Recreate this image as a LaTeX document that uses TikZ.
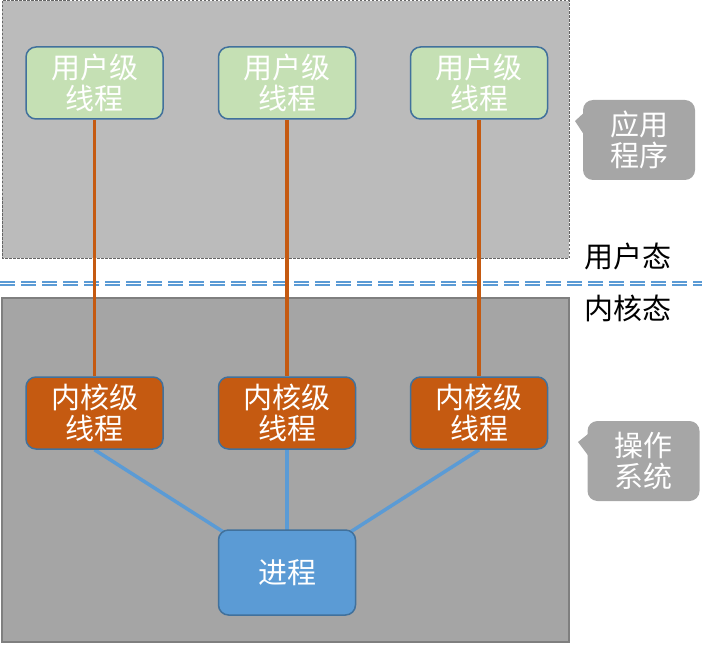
\documentclass[tikz,border=0pt]{standalone}
\usepackage{fontspec}
\newfontfamily\cjk{Noto Sans CJK SC}
\usetikzlibrary{calc}
\definecolor{topfill}{HTML}{BBBBBB}
\definecolor{botfill}{HTML}{A5A5A5}
\definecolor{frame}{HTML}{7F7F7F}
\definecolor{greenbox}{HTML}{C5E0B4}
\definecolor{orangebox}{HTML}{C55A11}
\definecolor{bluebox}{HTML}{5B9BD5}
\definecolor{edgeblue}{HTML}{41719C}
\definecolor{calloutgray}{HTML}{A6A6A6}
\pgfdeclarelayer{bg}
\pgfdeclarelayer{lines}
\pgfsetlayers{bg,lines,main}
\tikzset{
  thr/.style={draw=edgeblue, line width=1.5pt, rounded corners=10pt, minimum width=137pt, minimum height=72pt, text=white, align=center, font=\cjk\fontsize{29}{31}\selectfont, inner sep=0pt},
  uthr/.style={thr, fill=greenbox},
  kthr/.style={thr, fill=orangebox},
  proc/.style={thr, fill=bluebox, minimum height=85pt},
  callbox/.style={fill=calloutgray, rounded corners=10pt, minimum width=112pt, minimum height=80pt, text=white, align=center, font=\cjk\fontsize{29}{31}\selectfont, inner sep=0pt},
  statelabel/.style={font=\cjk\fontsize{29}{31}\selectfont, text=black, inner sep=0pt},
  oline/.style={orangebox, line width=3.5pt},
  bline/.style={bluebox, line width=3.5pt},
}
\begin{document}
\begin{tikzpicture}[x=1pt,y=-1pt]
\useasboundingbox (0,0) rectangle (717,647);
% regions
\begin{pgfonlayer}{bg}
\fill[topfill] (2,1) rectangle (569,258);
\draw[frame!80!black, dash pattern=on 2.5pt off 1.5pt, line width=1pt] (2,1) rectangle (569,258);
\fill[botfill] (2,298) rectangle (569,642);
\draw[frame, line width=1.8pt] (2,298) rectangle (569,642);
\draw[bluebox, line width=1.6pt, double=white, double distance=1.8pt, dash pattern=on 15pt off 6pt] (0,283.5) -- (702,283.5);
\end{pgfonlayer}
% nodes
\node[uthr] (u1) at (94.5,83) {用户级\\线程};
\node[uthr] (u2) at (287,83) {用户级\\线程};
\node[uthr] (u3) at (479,83) {用户级\\线程};
\node[kthr] (k1) at (94.5,413) {内核级\\线程};
\node[kthr] (k2) at (287,413) {内核级\\线程};
\node[kthr] (k3) at (479,413) {内核级\\线程};
\node[proc] (p) at (287,572.5) {进程};
% callouts
\node[callbox] (c1) at (639,140) {应用\\程序};
\coordinate (c1tip) at (575,121);
\fill[calloutgray] (c1tip) -- ($(c1.west)+(2,-28)$) -- ($(c1.west)+(2,-4)$) -- cycle;
\node[callbox] (c2) at (643.5,461) {操作\\系统};
\coordinate (c2tip) at (578,442);
\fill[calloutgray] (c2tip) -- ($(c2.west)+(2,-28)$) -- ($(c2.west)+(2,-4)$) -- cycle;
% state labels
\node[statelabel] (us) at (628,256) {用户态};
\node[statelabel] (ks) at (628,308) {内核态};
% connectors
\begin{pgfonlayer}{lines}
\draw[oline] (u1.south) -- (k1.north);
\draw[oline] (u2.south) -- (k2.north);
\draw[oline] (u3.south) -- (k3.north);
\draw[bline] (k1.south) -- (p.center);
\draw[bline] (k2.south) -- (p.center);
\draw[bline] (k3.south) -- (p.center);
\end{pgfonlayer}
\end{tikzpicture}
\end{document}
